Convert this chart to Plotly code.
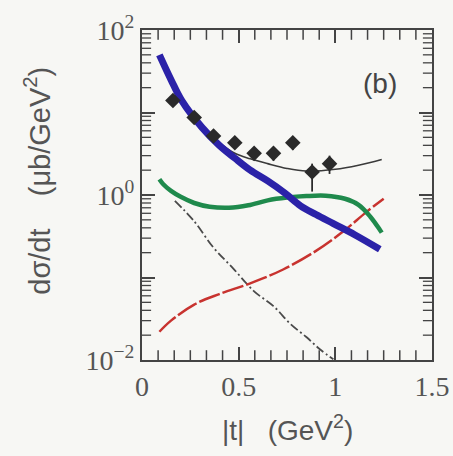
import plotly.graph_objects as go

# data
data_t = [0.16, 0.27, 0.37, 0.48, 0.58, 0.68, 0.78, 0.88, 0.97]
data_y = [14.0, 8.7, 5.2, 4.3, 3.2, 3.2, 4.3, 1.9, 2.4]
data_err_up = [2.0, 1.2, 0.7, 0.6, 0.5, 0.6, 0.8, 0.5, 0.6]
data_err_dn = [2.0, 1.2, 0.7, 0.6, 0.5, 0.6, 0.8, 0.8, 0.6]

blue_t = [0.09, 0.15, 0.205, 0.31, 0.40, 0.48, 0.56, 0.65, 0.74, 0.82, 0.90, 0.99, 1.10, 1.23]
blue_y = [50.0, 25.0, 14.0, 6.6, 4.0, 2.8, 2.0, 1.48, 1.05, 0.74, 0.58, 0.45, 0.33, 0.22]

total_t = [0.2, 0.31, 0.40, 0.48, 0.56, 0.65, 0.75, 0.85, 1.0, 1.12, 1.24]
total_y = [14.5, 7.0, 4.3, 3.2, 2.75, 2.4, 2.1, 1.95, 2.05, 2.3, 2.7]

green_t = [0.09, 0.11, 0.15, 0.20, 0.27, 0.35, 0.45, 0.55, 0.65, 0.75, 0.85, 0.95, 1.05, 1.12, 1.18, 1.23, 1.24]
green_y = [1.55, 1.35, 1.12, 0.95, 0.80, 0.72, 0.70, 0.75, 0.86, 0.93, 0.97, 0.98, 0.90, 0.76, 0.55, 0.38, 0.35]

red_t = [0.09, 0.15, 0.27, 0.40, 0.56, 0.73, 0.90, 1.04, 1.16, 1.25]
red_y = [0.022, 0.030, 0.047, 0.063, 0.085, 0.125, 0.21, 0.36, 0.62, 0.90]

dd_t = [0.17, 0.27, 0.37, 0.47, 0.58, 0.68, 0.77, 0.85, 0.92, 0.99]
dd_y = [0.85, 0.48, 0.23, 0.13, 0.068, 0.045, 0.027, 0.019, 0.0135, 0.0102]

x_range = [0, 1.5]
y_range_exp = [-2, 2]
x_tickvals = [0, 0.5, 1, 1.5]
x_ticktext = ["0", "0.5", "1", "1.5"]
x_minor = [i / 12 for i in range(1, 18) if i % 6 != 0]
y_tickvals = [0.01, 0.1, 1, 10, 100]
y_ticktext = ["10<sup>−2</sup>", "", "10<sup>0</sup>", "", "10<sup>2</sup>"]
y_minor = [k * 10.0 ** e for e in range(-2, 2) for k in range(2, 10)]

tc = "#444444"
fig = go.Figure()

fig.add_trace(go.Scatter(x=total_t, y=total_y, mode="lines", line=dict(color="#3a3a3a", width=1.6, shape="spline"), showlegend=False))
fig.add_trace(go.Scatter(x=dd_t, y=dd_y, mode="lines", line=dict(color="#4a4a4a", width=1.8, dash="9px,3px,2px,3px", shape="spline"), showlegend=False))
fig.add_trace(go.Scatter(x=red_t, y=red_y, mode="lines", line=dict(color="#c8332f", width=2.5, dash="22px,3px", shape="spline"), showlegend=False))
fig.add_trace(go.Scatter(x=green_t, y=green_y, mode="lines", line=dict(color="#1f8a4c", width=4.5, shape="spline"), showlegend=False))
fig.add_trace(go.Scatter(x=blue_t, y=blue_y, mode="lines", line=dict(color="#2b22a8", width=7, shape="spline"), showlegend=False))
fig.add_trace(go.Scatter(
    x=data_t, y=data_y, mode="markers",
    marker=dict(symbol="diamond", size=12, color="#2a2a2a"),
    error_y=dict(type="data", array=data_err_up, arrayminus=data_err_dn, color="#2a2a2a", thickness=1.8, width=0),
    showlegend=False))

# minor tick marks on all four sides (half of each marker is clipped by the plot area)
y_lo, y_hi = 10.0 ** y_range_exp[0], 10.0 ** y_range_exp[1]
for yy in (y_lo, y_hi):
    fig.add_trace(go.Scatter(x=x_minor, y=[yy] * len(x_minor), mode="markers", cliponaxis=True,
                             marker=dict(symbol="line-ns", size=14, line=dict(color=tc, width=1.5)),
                             showlegend=False, hoverinfo="skip"))
for xx in x_range:
    fig.add_trace(go.Scatter(x=[xx] * len(y_minor), y=y_minor, mode="markers", cliponaxis=True,
                             marker=dict(symbol="line-ew", size=13, line=dict(color=tc, width=1.3)),
                             showlegend=False, hoverinfo="skip"))

axis_font = dict(family="Liberation Serif, Times New Roman, serif", size=28, color="#555555")

fig.update_layout(
    width=453, height=456,
    margin=dict(l=142, r=21, t=30, b=96),
    paper_bgcolor="#f7f7f4", plot_bgcolor="#f7f7f4",
    xaxis=dict(range=x_range, tickmode="array", tickvals=x_tickvals, ticktext=x_ticktext,
               ticks="inside", ticklen=13, tickwidth=1.6, tickcolor=tc, automargin=False,
               showline=True, linecolor=tc, linewidth=2, mirror="allticks",
               showgrid=False, zeroline=False, tickfont=axis_font),
    yaxis=dict(type="log", range=y_range_exp, tickmode="array", tickvals=y_tickvals, ticktext=y_ticktext,
               ticks="inside", ticklen=13, tickwidth=1.6, tickcolor=tc, automargin=False,
               showline=True, linecolor=tc, linewidth=2, mirror="allticks",
               showgrid=False, zeroline=False, tickfont=axis_font),
    annotations=[
        dict(text="(b)", x=0.885, y=0.89, xref="paper", yref="paper", showarrow=False,
             font=dict(family="Liberation Sans, Arial, sans-serif", size=28, color="#444")),
        dict(text="|t|   (GeV<sup>2</sup>)", x=0.5, y=-0.205, xref="paper", yref="paper",
             xanchor="center", yanchor="middle", showarrow=False,
             font=dict(family="Liberation Sans, Arial, sans-serif", size=28, color="#555")),
        dict(text="dσ/dt    (μb/GeV<sup>2</sup>)", x=-0.36, y=0.542, xref="paper", yref="paper",
             xanchor="center", yanchor="middle", textangle=-90, showarrow=False,
             font=dict(family="Liberation Sans, Arial, sans-serif", size=29, color="#555")),
    ],
)

fig.write_html("out.html")
